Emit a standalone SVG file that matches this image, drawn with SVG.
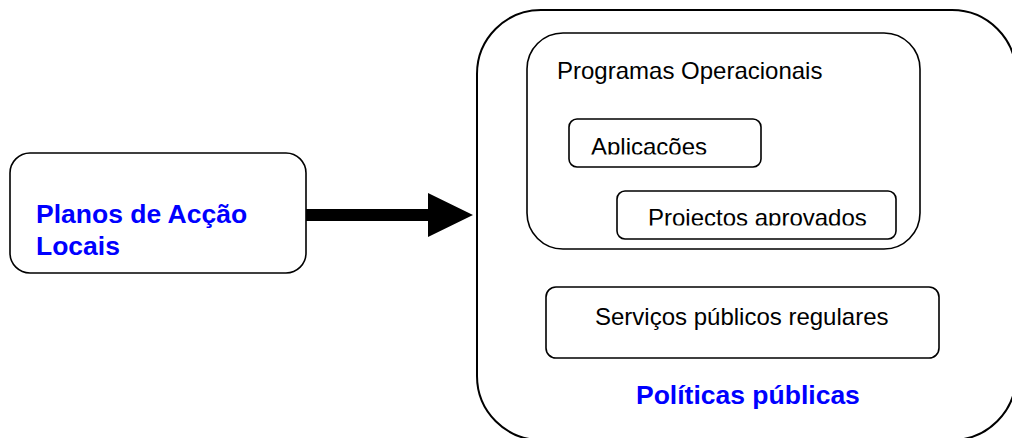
<svg xmlns="http://www.w3.org/2000/svg" width="1012" height="438" viewBox="0 0 1012 438">
<style>
.box{fill:#fff;stroke:#000;stroke-width:2}
.inner{fill:none;stroke:#000;stroke-width:1.6}
.t{font-family:"Liberation Sans",Arial,sans-serif;font-size:24px;fill:#000}
.b{font-family:"Liberation Sans",Arial,sans-serif;font-size:26.5px;font-weight:bold;fill:#0000ff}
</style>
<defs>
<clipPath id="clipA"><rect x="569" y="119" width="192" height="35.5"/></clipPath>
<clipPath id="clipP"><rect x="617" y="191" width="279" height="34.5"/></clipPath>
</defs>
<rect width="1012" height="438" fill="#fff"/>
<g id="politicas">
<rect class="box" x="477" y="10" width="539" height="430" rx="64"/>
<text class="b" x="636" y="404">Políticas públicas</text>
</g>
<g id="programas">
<rect class="inner" x="527" y="33" width="393" height="216" rx="36"/>
<text class="t" x="557" y="79">Programas Operacionais</text>
</g>
<g id="aplicacoes">
<rect class="inner" x="569" y="119" width="192" height="48" rx="8"/>
<text class="t" x="591" y="154.5" clip-path="url(#clipA)">Aplicações</text>
</g>
<g id="projectos">
<rect class="inner" x="617" y="191" width="279" height="48" rx="8"/>
<text class="t" x="648" y="226" clip-path="url(#clipP)">Projectos aprovados</text>
</g>
<g id="servicos">
<rect class="inner" x="546" y="287" width="393" height="71" rx="10"/>
<text class="t" x="595" y="325">Serviços públicos regulares</text>
</g>
<g id="planos">
<rect class="inner" x="10" y="153" width="296" height="120" rx="20"/>
<text class="b" x="36" y="223">Planos de Acção</text>
<text class="b" x="36" y="255">Locais</text>
</g>
<g id="connectors">
<path d="M306 209 H428 V193 L473 215 L428 237 V221 H306 Z" fill="#000"/>
</g>
</svg>
